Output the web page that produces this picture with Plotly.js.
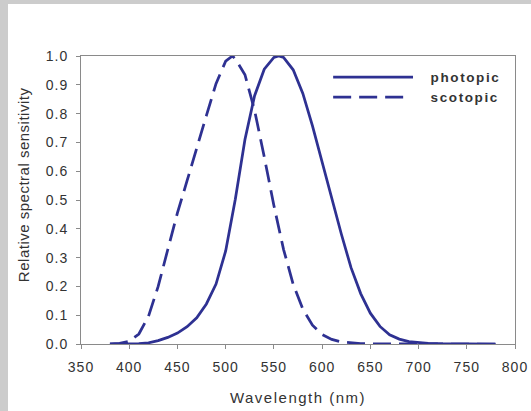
<!DOCTYPE html>
<html>
<head>
<meta charset="utf-8">
<script src="https://cdn.plot.ly/plotly-3.0.1.min.js"></script>
<style>
  html, body { margin: 0; padding: 0; background: #cccccc; }
  #chart { position: absolute; left: 8px; top: 4px; width: 523px; height: 407px; background: #ffffff; }
  #chart .xtick text, #chart .ytick text { letter-spacing: 1px; }
  #chart .g-xtitle text { letter-spacing: 1.5px; }
  #chart .annotation-text.ytitle { letter-spacing: 0.5px; }
  #chart .legtext { letter-spacing: 1.6px; }
</style>
</head>
<body>
<div id="chart"></div>
<script>
// Luminous efficiency curves (relative spectral sensitivity vs wavelength)
const photopicWavelength = [380, 390, 400, 410, 420, 430, 440, 450, 460, 470, 480, 490, 500, 510, 520, 530, 540, 550, 555, 560, 570, 580, 590, 600, 610, 620, 630, 640, 650, 660, 670, 680, 690, 700, 710, 720, 730, 740, 750, 760, 770, 780];
const photopicValues = [0.0000, 0.0001, 0.0004, 0.0012, 0.0040, 0.0116, 0.0230, 0.0380, 0.0600, 0.0910, 0.1390, 0.2080, 0.3230, 0.5030, 0.7100, 0.8620, 0.9540, 0.9950, 1.0000, 0.9950, 0.9520, 0.8700, 0.7570, 0.6310, 0.5030, 0.3810, 0.2650, 0.1750, 0.1070, 0.0610, 0.0320, 0.0170, 0.0082, 0.0041, 0.0021, 0.0010, 0.0005, 0.0002, 0.0001, 0.0001, 0.0000, 0.0000];

const scotopicWavelength = [380, 390, 400, 410, 420, 430, 440, 450, 460, 470, 480, 490, 500, 507, 510, 520, 530, 540, 550, 560, 570, 580, 590, 600, 610, 620, 630, 640, 650, 660, 670, 680, 690, 700, 710, 720, 730, 740, 750, 760, 770, 780];
const scotopicValues = [0.0006, 0.0022, 0.0093, 0.0348, 0.0966, 0.1998, 0.3281, 0.4550, 0.5670, 0.6760, 0.7930, 0.9040, 0.9820, 1.0000, 0.9900, 0.9350, 0.8110, 0.6500, 0.4810, 0.3288, 0.2076, 0.1212, 0.0655, 0.0332, 0.0159, 0.0074, 0.0033, 0.0015, 0.0007, 0.0003, 0.0001, 0.0001, 0.0000, 0.0000, 0.0000, 0.0000, 0.0000, 0.0000, 0.0000, 0.0000, 0.0000, 0.0000];

const xTicks = [350, 400, 450, 500, 550, 600, 650, 700, 750, 800];
const yTicks = [0.0, 0.1, 0.2, 0.3, 0.4, 0.5, 0.6, 0.7, 0.8, 0.9, 1.0];
const seriesNames = ['photopic', 'scotopic'];

const lineColor = '#2e3192';
const textColor = '#333333';
const axisColor = '#8a8a8a';

const traces = [
  {
    x: photopicWavelength, y: photopicValues, name: seriesNames[0],
    type: 'scatter', mode: 'lines',
    line: { color: lineColor, width: 2.75 }
  },
  {
    x: scotopicWavelength, y: scotopicValues, name: seriesNames[1],
    type: 'scatter', mode: 'lines',
    line: { color: lineColor, width: 2.75, dash: '18px,8px' }
  }
];

// Key drawn inside the plot area (longer line samples than the built-in legend)
const keyX0 = 0.581, keyX1 = 0.765, keyTextX = 0.816;
const keyY = [0.927, 0.857];

const layout = {
  width: 523, height: 407,
  margin: { l: 73, r: 16, t: 52, b: 67 },
  paper_bgcolor: '#ffffff',
  plot_bgcolor: '#ffffff',
  showlegend: false,
  font: { family: 'Liberation Sans, Arial, sans-serif', color: textColor, size: 14 },
  xaxis: {
    range: [350, 800],
    tickvals: xTicks,
    ticktext: xTicks.map(String),
    ticks: 'outside', ticklen: 4, tickcolor: axisColor, tickwidth: 1,
    ticklabelstandoff: 6,
    showline: true, linecolor: axisColor, linewidth: 1, mirror: true,
    showgrid: false, zeroline: false,
    tickfont: { size: 14, color: textColor },
    title: { text: 'Wavelength (nm)', font: { size: 15, color: textColor }, standoff: 18 }
  },
  yaxis: {
    range: [0, 1],
    tickvals: yTicks,
    ticktext: yTicks.map(v => v.toFixed(1)),
    ticks: 'outside', ticklen: 4, tickcolor: axisColor, tickwidth: 1,
    ticklabelstandoff: 5,
    showline: true, linecolor: axisColor, linewidth: 1, mirror: true,
    showgrid: false, zeroline: false,
    tickfont: { size: 14, color: textColor }
  },
  shapes: [
    { type: 'line', xref: 'paper', yref: 'paper', x0: keyX0, x1: keyX1, y0: keyY[0], y1: keyY[0],
      line: { color: lineColor, width: 2.75 } },
    { type: 'line', xref: 'paper', yref: 'paper', x0: keyX0, x1: 0.755, y0: keyY[1], y1: keyY[1],
      line: { color: lineColor, width: 2.75, dash: '18px,8px' } }
  ],
  annotations: [
    { xref: 'paper', yref: 'paper', x: keyTextX, y: keyY[0], xanchor: 'left', yanchor: 'middle',
      text: '<b>' + seriesNames[0] + '</b>', showarrow: false,
      font: { size: 13.5, color: textColor } },
    { xref: 'paper', yref: 'paper', x: keyTextX, y: keyY[1], xanchor: 'left', yanchor: 'middle',
      text: '<b>' + seriesNames[1] + '</b>', showarrow: false,
      font: { size: 13.5, color: textColor } },
    { xref: 'paper', yref: 'paper', x: -0.131, y: 0.553, xanchor: 'center', yanchor: 'middle',
      text: 'Relative spectral sensitivity', textangle: -90, showarrow: false,
      font: { size: 15, color: textColor } }
  ]
};

Plotly.newPlot('chart', traces, layout, { staticPlot: true, displayModeBar: false }).then(() => {
  // spacing classes for the key labels and the vertical title
  const texts = document.querySelectorAll('#chart .annotation-text');
  texts.forEach((t, i) => { t.classList.add(i < 2 ? 'legtext' : 'ytitle'); });
});
</script>
</body>
</html>
